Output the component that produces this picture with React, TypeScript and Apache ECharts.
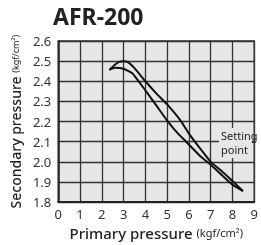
import React, { useEffect, useRef } from "react";
import * as echarts from "echarts";

const title = "AFR-200";
const xTicks = [0, 1, 2, 3, 4, 5, 6, 7, 8, 9];
const yTicks = [1.8, 1.9, 2.0, 2.1, 2.2, 2.3, 2.4, 2.5, 2.6];

// upper branch of hysteresis loop [primary, secondary]
const upperX = [2.35, 2.6, 2.8, 3.0, 3.2, 3.5, 4.0, 4.5, 5.0, 5.65, 6.0, 6.5, 7.0, 7.5, 8.0, 8.48];
const upperY = [2.457, 2.482, 2.496, 2.5, 2.495, 2.465, 2.4, 2.34, 2.285, 2.2, 2.14, 2.068, 2.0, 1.955, 1.905, 1.855];
// lower branch
const lowerX = [2.35, 2.6, 3.0, 3.4, 4.0, 4.5, 5.0, 5.5, 5.87, 6.5, 7.0, 7.5, 8.0, 8.48];
const lowerY = [2.457, 2.467, 2.462, 2.44, 2.355, 2.28, 2.205, 2.14, 2.1, 2.03, 1.985, 1.935, 1.887, 1.855];

const FONT = "'Noto Sans', sans-serif";

export default function App() {
  const ref = useRef<HTMLDivElement>(null);
  useEffect(() => {
    if (!ref.current) return;
    const chart = echarts.init(ref.current, undefined, { renderer: "svg" });
    const upper = upperX.map((x, i) => [x, upperY[i]]);
    const lower = lowerX.map((x, i) => [x, lowerY[i]]);
    chart.setOption({
      animation: false,
      textStyle: { fontFamily: FONT },
      title: {
        text: title,
        left: 53,
        top: 4,
        padding: 0,
        textStyle: { fontFamily: FONT, fontSize: 23, fontWeight: "bold", color: "#222" },
      },
      grid: {
        left: 54,
        top: 41,
        width: 209,
        height: 163,
        show: true,
        backgroundColor: "#e6e6e6",
        borderColor: "#333",
        borderWidth: 1.5,
      },
      xAxis: {
        type: "value",
        min: xTicks[0],
        max: xTicks[xTicks.length - 1],
        interval: 1,
        axisLine: { show: true, lineStyle: { color: "#222", width: 2 } },
        axisTick: { show: false },
        splitLine: { show: true, lineStyle: { color: "#333", width: 1.3 } },
        axisLabel: { fontSize: 13, color: "#333", margin: 5, fontFamily: FONT },
        name: "{a|Primary pressure }{b|(kgf/cm²)}",
        nameLocation: "middle",
        nameGap: 16,
        nameTextStyle: {
          rich: {
            a: { fontSize: 15, color: "#222", fontFamily: FONT, fontWeight: 500 },
            b: { fontSize: 11, color: "#222", fontFamily: FONT },
          },
        },
      },
      yAxis: {
        type: "value",
        min: yTicks[0],
        max: yTicks[yTicks.length - 1],
        interval: 0.1,
        axisLine: { show: true, lineStyle: { color: "#222", width: 1.5 } },
        axisTick: { show: false },
        splitLine: { show: true, lineStyle: { color: "#333", width: 1.3 } },
        axisLabel: {
          fontSize: 13,
          color: "#333",
          margin: 7,
          fontFamily: FONT,
          formatter: (v: number) => v.toFixed(1),
        },
        name: "{a|Secondary pressure }{b|(kgf/cm²)}",
        nameLocation: "middle",
        nameGap: 31,
        nameRotate: 90,
        nameTextStyle: {
          rich: {
            a: { fontSize: 14, color: "#222", fontFamily: FONT, fontWeight: 500 },
            b: { fontSize: 9, color: "#222", fontFamily: FONT },
          },
        },
      },
      graphic: [
        {
          type: "rect",
          z: 100,
          shape: { x: 219, y: 128, width: 33, height: 30 },
          style: { fill: "#e6e6e6" },
        },
        {
          type: "text",
          z: 101,
          x: 221,
          y: 128,
          style: {
            text: "Setting\npoint",
            fontSize: 11,
            lineHeight: 14,
            fill: "#222",
            fontFamily: FONT,
          },
        },
      ],
      series: [
        {
          type: "line",
          data: upper,
          smooth: 0.15,
          showSymbol: false,
          lineStyle: { color: "#111", width: 2 },
          z: 5,
        },
        {
          type: "line",
          data: lower,
          smooth: 0.15,
          showSymbol: false,
          lineStyle: { color: "#111", width: 2 },
          z: 5,
        },
      ],
    });
    return () => chart.dispose();
  }, []);
  return (
    <div
      ref={ref}
      style={{ position: "fixed", left: 0, top: 0, width: 261, height: 245 }}
    />
  );
}
